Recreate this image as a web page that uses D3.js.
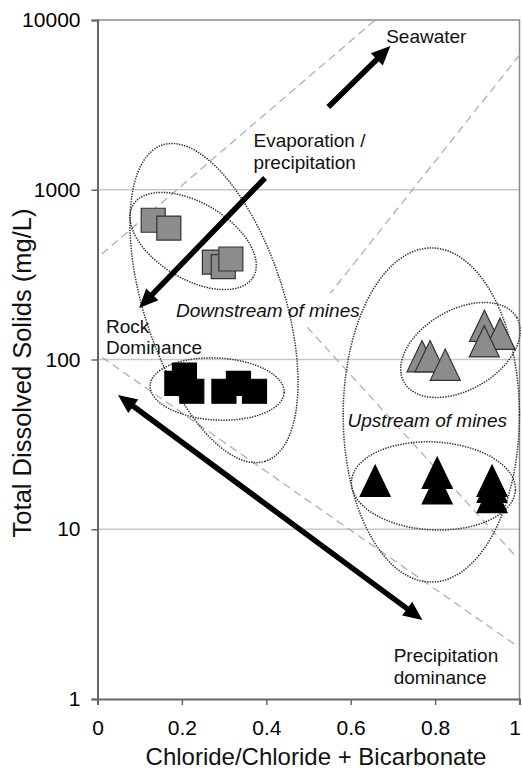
<!DOCTYPE html>
<html>
<head>
<meta charset="utf-8">
<script src="https://cdn.jsdelivr.net/npm/d3@7"></script>
<style>
  body { margin: 0; background: #fff; }
  svg { display: block; font-family: Arial, "Liberation Sans", sans-serif; }
</style>
</head>
<body>
<div id="chart"></div>
<script>
// Gibbs-type plot: TDS vs Cl/(Cl+HCO3)
const downstreamHigh = [
  { x: 0.132, tds: 661 }, { x: 0.169, tds: 595 },
  { x: 0.277, tds: 375 }, { x: 0.298, tds: 352 }, { x: 0.316, tds: 391 }
];
const downstreamLow = [
  { x: 0.206, tds: 81 }, { x: 0.188, tds: 72.4 }, { x: 0.2235, tds: 65 },
  { x: 0.2996, tds: 65 }, { x: 0.334, tds: 72.4 }, { x: 0.372, tds: 65 }
];
const upstreamHigh = [
  { x: 0.769, tds: 104.6 }, { x: 0.788, tds: 104.6 }, { x: 0.824, tds: 93.2 },
  { x: 0.917, tds: 158 }, { x: 0.954, tds: 141.7 }, { x: 0.9165, tds: 128 }
];
const upstreamLow = [
  { x: 0.658, tds: 19.3 }, { x: 0.805, tds: 21.5 }, { x: 0.805, tds: 17.4 },
  { x: 0.935, tds: 19.3 }, { x: 0.935, tds: 17.8 }, { x: 0.935, tds: 15.5 }
];

// dashed boundary lines
const boundaries = [
  [{ x: 0.01, tds: 418 }, { x: 0.658, tds: 10000 }],
  [{ x: 1.0, tds: 6220 }, { x: 0.552, tds: 246 }],
  [{ x: 0.497, tds: 155 }, { x: 0.995, tds: 6.77 }],
  [{ x: 0.0107, tds: 103 }, { x: 0.991, tds: 2.08 }]
];

// dotted group ellipses: centre, half-axes (rx in ratio units, ry in decades), tilt in degrees
const groups = [
  { x: 0.276, tds: 215, rx: 0.394, ry: 0.412, angle: 72 },
  { x: 0.2266, tds: 499, rx: 0.166, ry: 0.224, angle: 31 },
  { x: 0.2835, tds: 67, rx: 0.159, ry: 0.1826, angle: 3 },
  { x: 0.791, tds: 47.1, rx: 0.2088, ry: 0.984, angle: 0 },
  { x: 0.86, tds: 113.8, rx: 0.154, ry: 0.2356, angle: -30 },
  { x: 0.796, tds: 18.0, rx: 0.1945, ry: 0.259, angle: 3 }
];

const arrows = [
  { from: { x: 0.547, tds: 3073 }, to: { x: 0.694, tds: 7028 }, both: false },
  { from: { x: 0.397, tds: 1173 }, to: { x: 0.0985, tds: 201 }, both: false },
  { from: { x: 0.770, tds: 2.92 }, to: { x: 0.0486, tds: 61.8 }, both: true }
];

const notes = [
  { x: 0.684, tds: 7320, lines: ["Seawater"], italic: false },
  { x: 0.3696, tds: 1778, lines: ["Evaporation /", "precipitation"], italic: false },
  { x: 0.0202, tds: 143.9, lines: ["Rock", "Dominance"], italic: false },
  { x: 0.186, tds: 177.3, lines: ["Downstream of mines"], italic: true },
  { x: 0.5926, tds: 40.2, lines: ["Upstream of mines"], italic: true },
  { x: 0.7018, tds: 1.658, lines: ["Precipitation", "dominance"], italic: false }
];

const xTicks = [0, 0.2, 0.4, 0.6, 0.8, 1];
const yTicks = [1, 10, 100, 1000, 10000];
const gridValues = [10, 100, 1000];

const width = 522, height = 769;
const margin = { top: 20, right: 2.5, bottom: 70, left: 97.5 };

const svg = d3.select("#chart").append("svg")
  .attr("width", width).attr("height", height);

const x = d3.scaleLinear().domain([0, 1]).range([margin.left, width - margin.right]);
const y = d3.scaleLog().domain([1, 10000]).range([height - margin.bottom, margin.top]);
const decade = y(1) - y(10);

// grid
svg.append("g").selectAll("line").data(gridValues).join("line")
  .attr("x1", x(0)).attr("x2", x(1))
  .attr("y1", d => y(d)).attr("y2", d => y(d))
  .attr("stroke", "#c8c8c8").attr("stroke-width", 1.5);

// frame top/right
svg.append("path")
  .attr("d", `M${x(0)},${y(10000)}H${x(1)}V${y(1)}`)
  .attr("fill", "none").attr("stroke", "#8a8a8a").attr("stroke-width", 1.5);

// dashed boundaries
svg.append("g").selectAll("line").data(boundaries).join("line")
  .attr("x1", d => x(d[0].x)).attr("y1", d => y(d[0].tds))
  .attr("x2", d => x(d[1].x)).attr("y2", d => y(d[1].tds))
  .attr("stroke", "#b0b0b0").attr("stroke-width", 1.3)
  .attr("stroke-dasharray", "8,5");

// ellipses
svg.append("g").selectAll("ellipse").data(groups).join("ellipse")
  .attr("transform", d => `translate(${x(d.x)},${y(d.tds)}) rotate(${d.angle})`)
  .attr("rx", d => x(d.rx) - x(0))
  .attr("ry", d => d.ry * decade)
  .attr("fill", "none").attr("stroke", "#333")
  .attr("stroke-width", 1.5).attr("stroke-dasharray", "1.4,1.2");

// markers
const triangle = {
  draw(ctx, size) {
    const s = Math.sqrt(size);
    ctx.moveTo(0, -s * 0.52);
    ctx.lineTo(s / 2, s * 0.52);
    ctx.lineTo(-s / 2, s * 0.52);
    ctx.closePath();
  }
};
const square = d3.symbol().type(d3.symbolSquare).size(576)();
const tri = d3.symbol().type(triangle).size(900)();

function drawMarkers(data, shape, fill, stroke) {
  svg.append("g").selectAll("path").data(data).join("path")
    .attr("transform", d => `translate(${x(d.x)},${y(d.tds)})`)
    .attr("d", shape)
    .attr("fill", fill).attr("stroke", stroke).attr("stroke-width", 1.2);
}
drawMarkers(downstreamHigh, square, "#8c8c8c", "#333");
drawMarkers(downstreamLow, square, "#000", "#000");
drawMarkers(upstreamHigh, tri, "#8c8c8c", "#333");
drawMarkers(upstreamLow, tri, "#000", "#000");

// arrows
const headLen = 19, headHalf = 8.5, shaft = 5.5;
function head(px, py, ux, uy) {
  const bx = px - ux * headLen, by = py - uy * headLen;
  return `M${px},${py}L${bx - uy * headHalf},${by + ux * headHalf}L${bx + uy * headHalf},${by - ux * headHalf}Z`;
}
const ag = svg.append("g");
arrows.forEach(a => {
  const x1 = x(a.from.x), y1 = y(a.from.tds), x2 = x(a.to.x), y2 = y(a.to.tds);
  const len = Math.hypot(x2 - x1, y2 - y1);
  const ux = (x2 - x1) / len, uy = (y2 - y1) / len;
  const s = a.both ? headLen - 2 : 0;
  ag.append("line")
    .attr("x1", x1 + ux * s).attr("y1", y1 + uy * s)
    .attr("x2", x2 - ux * (headLen - 2)).attr("y2", y2 - uy * (headLen - 2))
    .attr("stroke", "#000").attr("stroke-width", shaft);
  ag.append("path").attr("d", head(x2, y2, ux, uy)).attr("fill", "#000");
  if (a.both) ag.append("path").attr("d", head(x1, y1, -ux, -uy)).attr("fill", "#000");
});

// annotations
const tg = svg.append("g").attr("font-size", 19).attr("fill", "#111");
notes.forEach(n => {
  const t = tg.append("text")
    .attr("x", x(n.x)).attr("y", y(n.tds))
    .attr("font-style", n.italic ? "italic" : null);
  n.lines.forEach((l, i) => {
    t.append("tspan").attr("x", x(n.x)).attr("dy", i ? 21.8 : 0).text(l);
  });
});

// axes
const xAxis = svg.append("g")
  .attr("transform", `translate(0,${y(1)})`)
  .call(d3.axisBottom(x).tickValues(xTicks).tickSizeOuter(0).tickSize(6).tickPadding(15)
    .tickFormat(d => d3.format("")(d)));
const yAxis = svg.append("g")
  .attr("transform", `translate(${x(0)},0)`)
  .call(d3.axisLeft(y).tickValues(yTicks).tickSizeOuter(0).tickSize(6).tickPadding(11)
    .tickFormat(d3.format("d")));
[xAxis, yAxis].forEach(g => {
  g.select(".domain").attr("stroke", "#666").attr("stroke-width", 2);
  g.selectAll(".tick line").attr("stroke", "#666").attr("stroke-width", 1.5);
  g.selectAll(".tick text").attr("fill", "#000").attr("font-size", 21)
    .attr("font-family", "Arial, 'Liberation Sans', sans-serif");
});
// last x label sits on the edge; nudge it inside the page
xAxis.selectAll(".tick text").filter(d => d === 1).attr("dx", -5);

svg.append("text")
  .attr("x", 316).attr("y", 765)
  .attr("text-anchor", "middle").attr("font-size", 24).attr("fill", "#111")
  .text("Chloride/Chloride + Bicarbonate");
svg.append("text")
  .attr("transform", "translate(31,373) rotate(-90)")
  .attr("text-anchor", "middle").attr("font-size", 25.5).attr("fill", "#111")
  .text("Total Dissolved Solids (mg/L)");
</script>
</body>
</html>
